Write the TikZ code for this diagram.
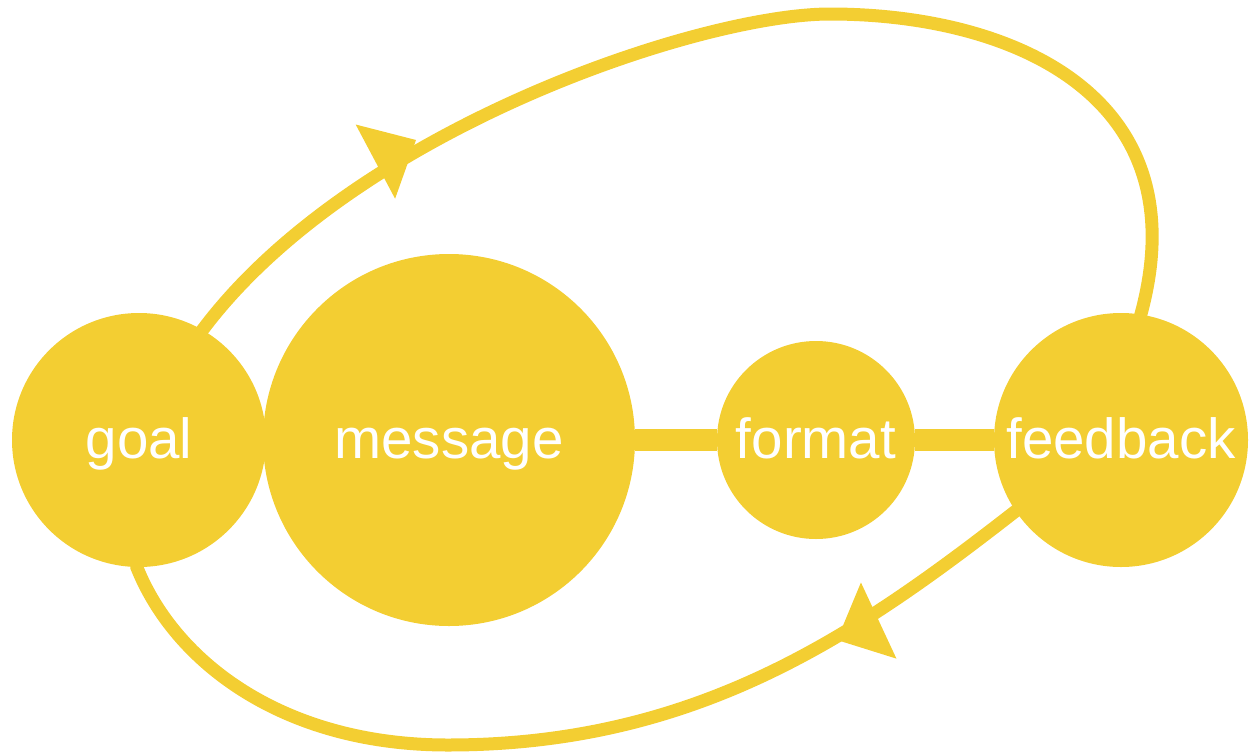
\documentclass[tikz,border=0pt]{standalone}
\usepackage{fontspec}
\setmainfont{Liberation Sans}
\definecolor{yel}{RGB}{243,206,50}
\pgfdeclarelayer{bg}
\pgfsetlayers{bg,main}
\tikzset{
  bub/.style={circle, fill=yel, inner sep=0pt, text=white,
    font=\fontsize{56.5}{60}\selectfont, text height=36pt, text depth=0pt},
  loopline/.style={draw=yel, line width=13pt},
  barline/.style={draw=yel, line width=22pt},
  headpic/.pic={\fill[yel] (0,0) -- (-46,42) -- (-46,-42) -- cycle;}
}
\begin{document}
\begin{tikzpicture}[x=1pt,y=-1pt]
\useasboundingbox (0,0) rectangle (1256,753);
\node[bub, minimum size=254pt] (goal) at (139,440) {goal};
\node[bub, minimum size=372pt] (message) at (449,440) {message};
\node[bub, minimum size=198pt] (format) at (816,440) {format};
\node[bub, minimum size=254pt] (feedback) at (1121,440) {feedback};
\coordinate (pk) at (830,14);
\coordinate (bt) at (448,745);
\begin{pgfonlayer}{bg}
\draw[barline] (message) -- (format);
\draw[barline] (format) -- (feedback);
\draw[loopline] (goal.center) -- (goal.60)
  .. controls +(150,-200) and +(-130,0) .. (pk)
  .. controls +(180,0) and +(60,-220) .. (feedback.81) -- (feedback.center);
\draw[loopline] (feedback.center) -- (feedback.214)
  .. controls +(-158,123) and +(250,0) .. (bt)
  .. controls +(-165,0) and +(38,95) .. (goal.269) -- (goal.center);
\end{pgfonlayer}
\pic[rotate=28] at (416,140) {headpic};
\pic[rotate=205] at (837,640) {headpic};
\end{tikzpicture}
\end{document}
